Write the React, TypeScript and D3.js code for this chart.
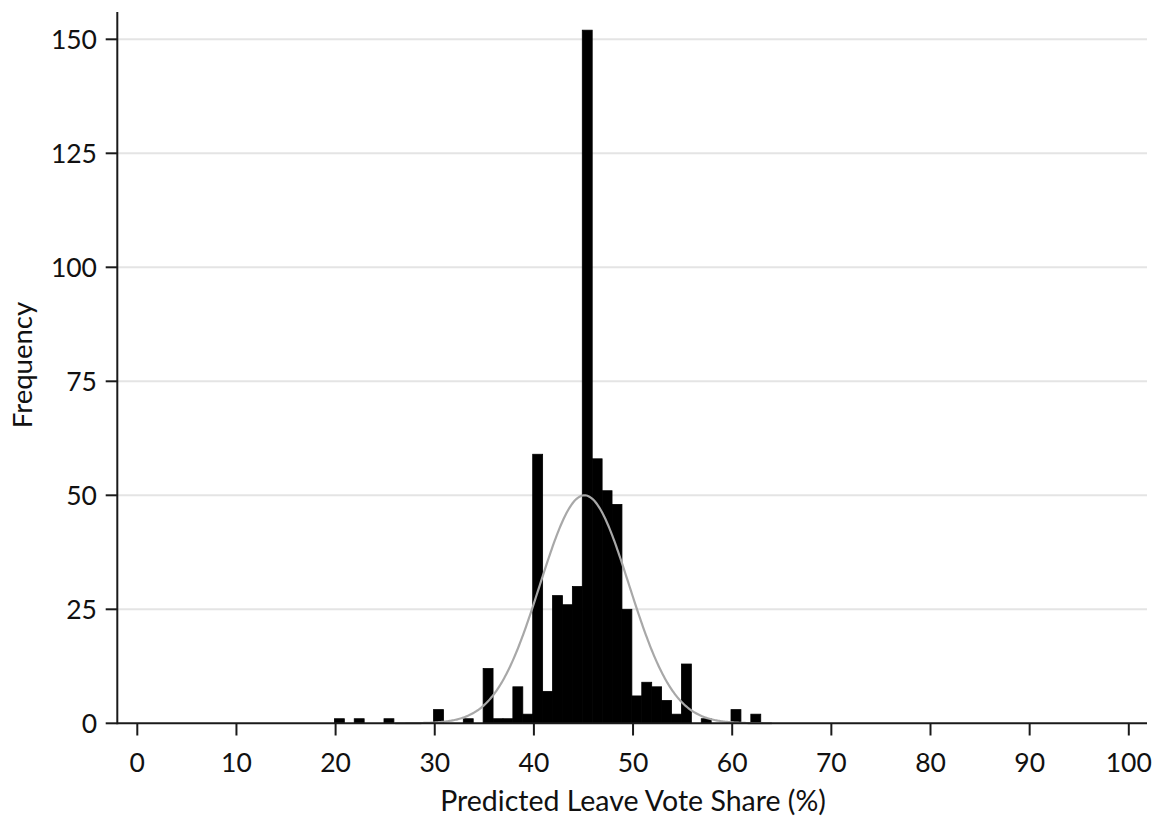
import React, { useRef, useEffect } from "react";
import * as d3 from "d3";

// histogram bins: left edge of first bin + width, counts per bin
const binStart = 19.88;
const binWidth = 1;
const binCounts = [
  1, 0, 1, 0, 0, 1, 0, 0, 0, 0,
  3, 0, 0, 1, 0, 12, 1, 1, 8, 2,
  59, 7, 28, 26, 30, 152, 58, 51, 48, 25,
  6, 9, 8, 5, 2, 13, 0, 1, 0, 0,
  3, 0, 2,
];

// fitted normal overlay
const normalMean = 45.1;
const normalSd = 4.5;
const normalRange = [26, 64];

const xTicks = [0, 10, 20, 30, 40, 50, 60, 70, 80, 90, 100];
const yTicks = [0, 25, 50, 75, 100, 125, 150];

const xTitle = "Predicted Leave Vote Share (%)";
const yTitle = "Frequency";

const W = 1159;
const H = 816;
const FONT = "Lato, 'Open Sans', sans-serif";

const HistogramChart = () => {
  const svgRef = useRef<SVGSVGElement>(null);

  useEffect(() => {
    const svg = d3.select(svgRef.current);
    svg.selectAll("*").remove();

    const axisX = 117.3;
    const axisTop = 12;
    const axisRight = 1147;

    const x = d3.scaleLinear().domain([0, 100]).range([137.3, 1128.8]);
    const y = d3.scaleLinear().domain([0, 150]).range([723.3, 39.3]);

    // grid
    svg.append("g")
      .selectAll("line")
      .data(yTicks.filter(d => d > 0))
      .join("line")
      .attr("x1", axisX).attr("x2", axisRight)
      .attr("y1", d => y(d)).attr("y2", d => y(d))
      .attr("stroke", "#e4e4e4")
      .attr("stroke-width", 2);

    // bars
    const bins = binCounts.map((c, i) => ({
      x0: binStart + i * binWidth,
      x1: binStart + (i + 1) * binWidth,
      count: c,
    })).filter(b => b.count > 0);

    svg.append("g")
      .selectAll("rect")
      .data(bins)
      .join("rect")
      .attr("x", d => x(d.x0))
      .attr("width", d => x(d.x1) - x(d.x0))
      .attr("y", d => y(d.count))
      .attr("height", d => y(0) - y(d.count))
      .attr("fill", "#000")
      .attr("stroke", "#000")
      .attr("stroke-width", 0.8);

    // normal density scaled to frequencies
    const total = d3.sum(binCounts);
    const pdf = (v: number) =>
      (total * binWidth) / (normalSd * Math.sqrt(2 * Math.PI)) *
      Math.exp(-0.5 * ((v - normalMean) / normalSd) ** 2);
    const pts = d3.range(normalRange[0], normalRange[1] + 0.001, 0.1);
    const line = d3.line<number>().x(d => x(d)).y(d => y(pdf(d)));
    svg.append("path")
      .attr("d", line(pts))
      .attr("fill", "none")
      .attr("stroke", "#a8a8a8")
      .attr("stroke-width", 2.2);

    // axes
    const axisColor = "#1a1a1a";
    svg.append("line")
      .attr("x1", axisX).attr("x2", axisX)
      .attr("y1", axisTop).attr("y2", y(0) + 1)
      .attr("stroke", axisColor).attr("stroke-width", 2);
    svg.append("line")
      .attr("x1", axisX).attr("x2", axisRight)
      .attr("y1", y(0)).attr("y2", y(0))
      .attr("stroke", axisColor).attr("stroke-width", 2);

    // y ticks + labels
    const yg = svg.append("g");
    yg.selectAll("line")
      .data(yTicks)
      .join("line")
      .attr("x1", 105.7).attr("x2", axisX)
      .attr("y1", d => y(d)).attr("y2", d => y(d))
      .attr("stroke", axisColor).attr("stroke-width", 2);
    yg.selectAll("text")
      .data(yTicks)
      .join("text")
      .attr("x", 97)
      .attr("y", d => y(d) + 10)
      .attr("text-anchor", "end")
      .attr("font-family", FONT)
      .attr("font-size", 26.5)
      .attr("fill", "#111")
      .text(d => d);

    // x ticks + labels
    const xg = svg.append("g");
    xg.selectAll("line")
      .data(xTicks)
      .join("line")
      .attr("x1", d => x(d)).attr("x2", d => x(d))
      .attr("y1", y(0)).attr("y2", 735.5)
      .attr("stroke", axisColor).attr("stroke-width", 2);
    xg.selectAll("text")
      .data(xTicks)
      .join("text")
      .attr("x", d => x(d))
      .attr("y", 771.5)
      .attr("text-anchor", "middle")
      .attr("font-family", FONT)
      .attr("font-size", 26.5)
      .attr("fill", "#111")
      .text(d => d);

    // titles
    svg.append("text")
      .attr("x", (x(0) + x(100)) / 2)
      .attr("y", 811)
      .attr("text-anchor", "middle")
      .attr("font-family", FONT)
      .attr("font-size", 28.5)
      .attr("fill", "#111")
      .text(xTitle);

    svg.append("text")
      .attr("transform", `translate(32,365) rotate(-90)`)
      .attr("text-anchor", "middle")
      .attr("font-family", FONT)
      .attr("font-size", 27.5)
      .attr("fill", "#111")
      .text(yTitle);
  }, []);

  return (
    <svg
      ref={svgRef}
      width={W}
      height={H}
      style={{ position: "absolute", left: 0, top: 0, background: "#fff" }}
    />
  );
};

export default function App() {
  return <HistogramChart />;
}
